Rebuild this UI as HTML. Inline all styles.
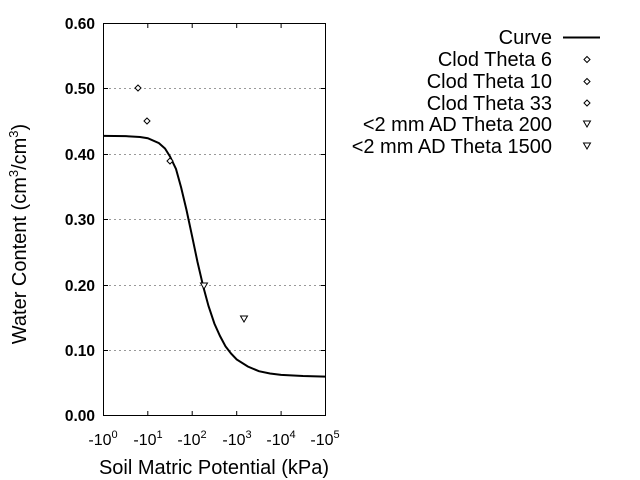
<!DOCTYPE html>
<html><head><meta charset="utf-8"><style>
body{margin:0;background:#fff}
svg{display:block;font-family:"Liberation Sans",sans-serif}
</style></head><body>
<svg width="640" height="480" viewBox="0 0 640 480">
<g stroke="#999" stroke-dasharray="2,3" stroke-width="1">
<line x1="104" y1="88.5" x2="325" y2="88.5"/>
<line x1="104" y1="154.5" x2="325" y2="154.5"/>
<line x1="104" y1="219.5" x2="325" y2="219.5"/>
<line x1="104" y1="285.5" x2="325" y2="285.5"/>
<line x1="104" y1="350.5" x2="325" y2="350.5"/>
</g>
<rect x="103.5" y="23.5" width="222" height="392" fill="none" stroke="#000" stroke-width="1"/>
<g stroke="#000" stroke-width="1">
<line x1="104" y1="88.5" x2="108" y2="88.5"/><line x1="321" y1="88.5" x2="325" y2="88.5"/>
<line x1="104" y1="154.5" x2="108" y2="154.5"/><line x1="321" y1="154.5" x2="325" y2="154.5"/>
<line x1="104" y1="219.5" x2="108" y2="219.5"/><line x1="321" y1="219.5" x2="325" y2="219.5"/>
<line x1="104" y1="285.5" x2="108" y2="285.5"/><line x1="321" y1="285.5" x2="325" y2="285.5"/>
<line x1="104" y1="350.5" x2="108" y2="350.5"/><line x1="321" y1="350.5" x2="325" y2="350.5"/>
<line x1="147.8" y1="415" x2="147.8" y2="411"/><line x1="147.8" y1="24" x2="147.8" y2="28"/>
<line x1="192.2" y1="415" x2="192.2" y2="411"/><line x1="192.2" y1="24" x2="192.2" y2="28"/>
<line x1="236.7" y1="415" x2="236.7" y2="411"/><line x1="236.7" y1="24" x2="236.7" y2="28"/>
<line x1="281.1" y1="415" x2="281.1" y2="411"/><line x1="281.1" y1="24" x2="281.1" y2="28"/>
</g>
<g font-size="15.5" font-weight="bold" text-anchor="end">
<text x="95" y="29">0.60</text><text x="95" y="94">0.50</text><text x="95" y="160">0.40</text>
<text x="95" y="225">0.30</text><text x="95" y="291">0.20</text><text x="95" y="356">0.10</text>
<text x="95" y="421">0.00</text>
</g>
<g font-size="16" text-anchor="middle">
<text x="103" y="445">-10<tspan font-size="11" dy="-7">0</tspan></text>
<text x="148" y="445">-10<tspan font-size="11" dy="-7">1</tspan></text>
<text x="192" y="445">-10<tspan font-size="11" dy="-7">2</tspan></text>
<text x="237" y="445">-10<tspan font-size="11" dy="-7">3</tspan></text>
<text x="281" y="445">-10<tspan font-size="11" dy="-7">4</tspan></text>
<text x="325" y="445">-10<tspan font-size="11" dy="-7">5</tspan></text>
</g>
<text x="214" y="474" font-size="20" text-anchor="middle">Soil Matric Potential (kPa)</text>
<text transform="translate(26,234) rotate(-90)" font-size="20" text-anchor="middle">Water Content (cm<tspan font-size="13" dy="-8">3</tspan><tspan dy="8">/cm</tspan><tspan font-size="13" dy="-8">3</tspan><tspan dy="8">)</tspan></text>
<polyline fill="none" stroke="#000" stroke-width="2" points="103.3,135.9 125.5,136.1 140,137 147.8,138.2 158.9,143.1 165,148.5 170,156.5 176,169 181.1,187.4 186.5,210 192.2,236.7 197.5,262 203.3,286.8 208.5,306 214.4,323.6 220,336 225.5,346.3 231,353.5 236.7,359.5 247.8,366.5 258.9,371.2 270,373.5 281.1,374.9 303,376 325.5,376.6"/>
<g fill="#fff" stroke="#000" stroke-width="1">
<path d="M138,85 L141,88 L138,91 L135,88 Z"/>
<path d="M147,118 L150,121 L147,124 L144,121 Z"/>
<path d="M170,158 L173,161 L170,164 L167,161 Z"/>
<path d="M200.5,283 L207.5,283 L204,289 Z"/>
<path d="M240.5,316 L247.5,316 L244,322 Z"/>
</g>
<g font-size="20" text-anchor="end">
<text x="552" y="44">Curve</text>
<text x="552" y="66">Clod Theta 6</text>
<text x="552" y="88">Clod Theta 10</text>
<text x="552" y="110">Clod Theta 33</text>
<text x="552" y="131">&lt;2 mm AD Theta 200</text>
<text x="552" y="153">&lt;2 mm AD Theta 1500</text>
</g>
<line x1="563" y1="37.5" x2="600" y2="37.5" stroke="#000" stroke-width="2"/>
<g fill="#fff" stroke="#000" stroke-width="1">
<path d="M587,56.5 L590,59.5 L587,62.5 L584,59.5 Z"/>
<path d="M587,78.5 L590,81.5 L587,84.5 L584,81.5 Z"/>
<path d="M587,100 L590,103 L587,106 L584,103 Z"/>
<path d="M583.5,121 L590.5,121 L587,127 Z"/>
<path d="M583.5,143 L590.5,143 L587,149 Z"/>
</g>
</svg>
</body></html>
